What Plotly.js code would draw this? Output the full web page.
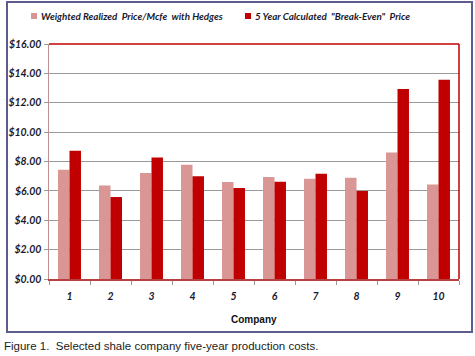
<!DOCTYPE html>
<html><head><meta charset="utf-8">
<script src="https://cdn.plot.ly/plotly-3.0.1.min.js"></script>
<style>html,body{margin:0;padding:0;background:#fff;}#chart{width:475px;height:356px;}</style>
</head><body><div id="chart"></div>
<script>
const companies = ['1','2','3','4','5','6','7','8','9','10'];
const realizedPrice = [7.44, 6.37, 7.21, 7.78, 6.60, 6.94, 6.83, 6.90, 8.62, 6.44];
const breakEvenPrice = [8.73, 5.58, 8.28, 6.99, 6.19, 6.62, 7.17, 5.99, 12.93, 13.57];
const seriesNames = ['Weighted Realized  Price/Mcfe  with Hedges', '5 Year Calculated  "Break-Even"  Price'];
const seriesColors = ['#d99694', '#c00000'];
const yTicks = [0,2,4,6,8,10,12,14,16];
const yTickLabels = yTicks.map(v => '$' + v.toFixed(2));

const L = 49, R = 459, T = 44, B = 279, W = 475, H = 356;
const pw = R - L, ph = B - T;
const px = x => (x - L) / pw;
const py = y => (B - y) / ph;

const tickFont = {family: 'Lato, "Open Sans", sans-serif', size: 10.5, color: '#1a1a2e', weight: 'bold', style: 'italic'};
const legendFont = Object.assign({}, tickFont, {size: 9.8});

const data = [
  {type: 'bar', x: companies, y: realizedPrice, name: seriesNames[0], marker: {color: seriesColors[0]}},
  {type: 'bar', x: companies, y: breakEvenPrice, name: seriesNames[1], marker: {color: seriesColors[1]}}
];

const legendX = [34, 248];
const legendShapes = legendX.map((x, i) => ({
  type: 'rect', xref: 'paper', yref: 'paper', x0: px(x - 3), x1: px(x + 3), y0: py(19), y1: py(13),
  fillcolor: seriesColors[i], line: {width: 0}
}));
const legendTexts = legendX.map((x, i) => ({
  xref: 'paper', yref: 'paper', x: px(x + 5), y: py(16), xanchor: 'left', yanchor: 'middle', showarrow: false,
  text: seriesNames[i].replace(/ {2}/g, '&nbsp; '), font: legendFont
}));

const layout = {
  width: W, height: H,
  margin: {l: L, r: W - R, t: T, b: H - B, autoexpand: false},
  paper_bgcolor: '#ffffff', plot_bgcolor: '#ffffff',
  barmode: 'group', bargap: 0.44, bargroupgap: 0,
  showlegend: false,
  xaxis: {
    type: 'category', tickfont: tickFont, showgrid: false, zeroline: false,
    showline: true, linecolor: '#b84040', linewidth: 1.5,
    ticks: 'outside', ticklen: 4, tickcolor: '#999', tickson: 'boundaries',
    ticklabelstandoff: 7, automargin: false
  },
  yaxis: {
    range: [0, 16], tickvals: yTicks, ticktext: yTickLabels, tickfont: tickFont,
    showgrid: true, gridcolor: '#9a9a9a', gridwidth: 1.2, zeroline: false,
    showline: true, linecolor: '#c09090', linewidth: 1.5,
    ticks: 'outside', ticklen: 4, tickcolor: '#999', automargin: false
  },
  shapes: [
    {type: 'line', xref: 'paper', yref: 'paper', x0: 0, x1: 1, y0: 1, y1: 1, line: {color: '#c00000', width: 1.5}},
    {type: 'line', xref: 'paper', yref: 'paper', x0: 1, x1: 1, y0: 0, y1: 1, line: {color: '#c00000', width: 1.5}},
    {type: 'rect', xref: 'paper', yref: 'paper', x0: px(7), x1: px(472), y0: py(332), y1: py(2),
     line: {color: '#5c5c8e', width: 2}, layer: 'below'}
  ].concat(legendShapes),
  annotations: [
    {xref: 'paper', yref: 'paper', x: px(254), y: py(319), xanchor: 'center', yanchor: 'middle', showarrow: false,
     text: '<b>Company</b>', font: {family: '"Liberation Sans", Arial, sans-serif', size: 10, color: '#111'}},
    {xref: 'paper', yref: 'paper', x: px(2), y: py(346), xanchor: 'left', yanchor: 'middle', showarrow: false,
     text: 'Figure 1.  Selected shale company five-year production costs.',
     font: {family: '"Liberation Sans", Arial, sans-serif', size: 11.5, color: '#222'}}
  ].concat(legendTexts)
};

Plotly.newPlot('chart', data, layout, {displayModeBar: false, staticPlot: true});
</script></body></html>
